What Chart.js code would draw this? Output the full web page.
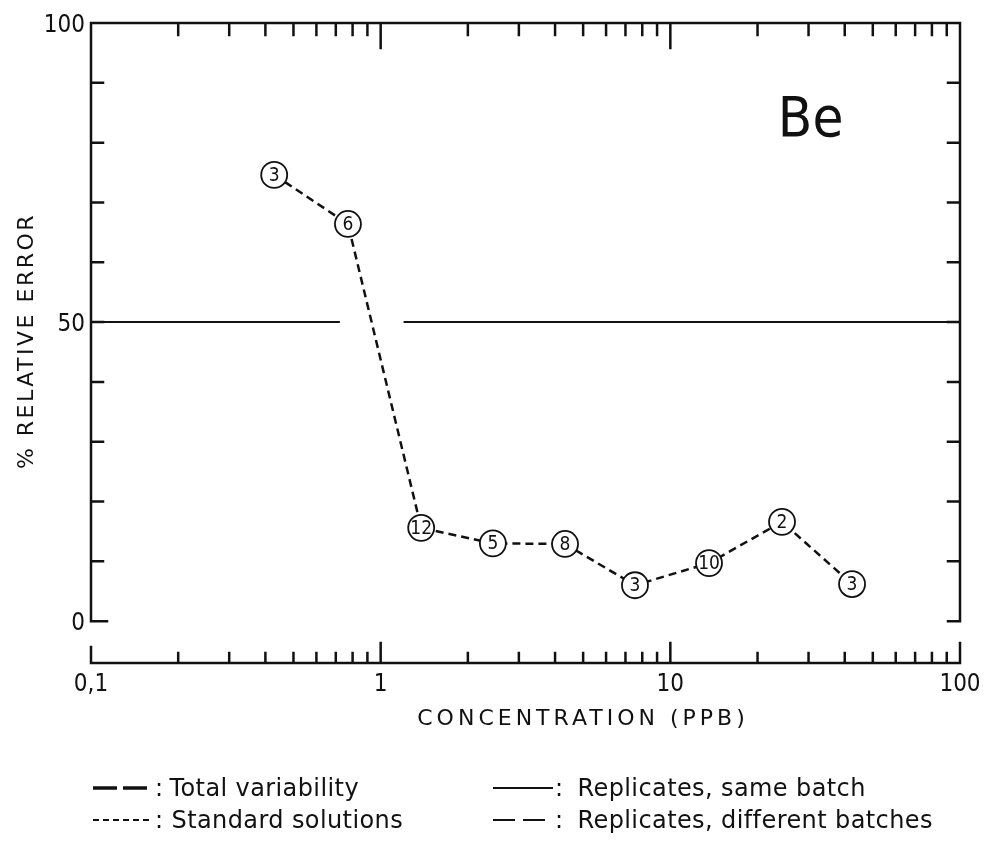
<!DOCTYPE html>
<html>
<head>
<meta charset="utf-8">
<script src="https://cdn.jsdelivr.net/npm/chart.js@4.4.1/dist/chart.umd.min.js"></script>
<style>
  body { margin: 0; background: #fff; }
  #wrap { position: relative; width: 985px; height: 841px; }
  #chart { position: absolute; left: 0; top: 0; }
  .leg { position: absolute; display: flex; align-items: center; height: 32px;
         font-family: "DejaVu Sans", sans-serif;
         font-size: 24px; color: #111; white-space: nowrap; letter-spacing: 0.4px; }
</style>
</head>
<body>
<div id="wrap">
  <canvas id="chart" width="985" height="841"></canvas>
</div>
<script>
// concentration (ppb), % relative error, number of runs (circled)
const conc = [0.429, 0.771, 1.38, 2.44, 4.33, 7.55, 13.6, 24.3, 42.4];
const relErr = [74.6, 66.4, 15.6, 13.0, 12.9, 6.0, 9.7, 16.6, 6.2];
const nRuns = [3, 6, 12, 5, 8, 3, 10, 2, 3];

// replicates, same batch (broken where the curve crosses it)
const sameX = [0.1, 0.723, 0.95, 1.2, 100];
const sameY = [50, 50, null, 50, 50];

const yTickValues = [0, 50, 100];
const yTickLabels = ['0', '50', '100'];
const xTickValues = [0.1, 1, 10, 100];
const xTickLabels = ['0,1', '1', '10', '100'];

const legendLabels = ['Total variability', 'Standard solutions', 'Replicates, same batch', 'Replicates, different batches'];

const ink = '#111';
const fontFam = '"DejaVu Sans Condensed", "Liberation Sans Narrow", sans-serif';
const titleFam = '"DejaVu Sans", sans-serif';

const framePlugin = {
    id: 'frame',
    beforeDatasetsDraw(chart) {
        const ctx = chart.ctx, sx = chart.scales.x, sy = chart.scales.y;
        const xL = sx.getPixelForValue(0.1), xR = sx.getPixelForValue(100);
        const yT = sy.getPixelForValue(100), y0 = sy.getPixelForValue(0);
        const yB = chart.chartArea.bottom;
        ctx.save();
        ctx.strokeStyle = ink;
        ctx.lineWidth = 2.5;
        ctx.lineCap = 'square';
        ctx.beginPath();
        ctx.moveTo(xL, y0); ctx.lineTo(xL, yT); ctx.lineTo(xR, yT); ctx.lineTo(xR, y0);
        ctx.moveTo(xL, yB); ctx.lineTo(xR, yB);
        // y ticks, every 10
        for (let v = 0; v < 100; v += 10) {
            const p = sy.getPixelForValue(v);
            const len = v === 0 ? 16 : 12;
            ctx.moveTo(xL, p); ctx.lineTo(xL + len, p);
            ctx.moveTo(xR, p); ctx.lineTo(xR - 12, p);
        }
        // log ticks top and bottom
        [0.1, 1, 10].forEach(d => {
            for (let k = 1; k <= 9; k++) {
                const p = sx.getPixelForValue(d * k);
                if (!(d === 0.1 && k === 1)) {
                    ctx.moveTo(p, yT); ctx.lineTo(p, yT + (k === 1 ? 25 : 12));
                }
                ctx.moveTo(p, yB); ctx.lineTo(p, yB - (k === 1 ? (d === 0.1 ? 16 : 20) : 10));
            }
        });
        const p100 = sx.getPixelForValue(100);
        ctx.moveTo(p100, yB); ctx.lineTo(p100, yB - 20);
        ctx.stroke();

        // tick labels
        ctx.fillStyle = ink;
        ctx.font = '24px ' + fontFam;
        ctx.textAlign = 'right';
        ctx.textBaseline = 'middle';
        yTickValues.forEach((v, i) => {
            ctx.fillText(yTickLabels[i], xL - 6, sy.getPixelForValue(v) + 3);
        });
        ctx.textAlign = 'center';
        xTickValues.forEach((v, i) => {
            ctx.fillText(xTickLabels[i], sx.getPixelForValue(v), yB + 22);
        });

        // axis titles
        ctx.font = '22px ' + titleFam;
        ctx.letterSpacing = '4px';
        ctx.fillText('CONCENTRATION (PPB)', 583, yB + 56);
        ctx.letterSpacing = '2.5px';
        ctx.save();
        ctx.translate(27, 341);
        ctx.rotate(-Math.PI / 2);
        ctx.fillText('% RELATIVE ERROR', 0, 0);
        ctx.restore();
        ctx.letterSpacing = '0px';

        ctx.font = '56px ' + fontFam;
        ctx.fillText('Be', sx.getPixelForValue(30.5), sy.getPixelForValue(83.5));
        ctx.restore();
    },
    afterDatasetsDraw(chart) {
        const ctx = chart.ctx;
        const meta = chart.getDatasetMeta(1);
        ctx.save();
        ctx.fillStyle = ink;
        ctx.font = '19px ' + fontFam;
        ctx.textAlign = 'center';
        ctx.textBaseline = 'middle';
        meta.data.forEach((pt, i) => {
            ctx.fillText(String(nRuns[i]), pt.x, pt.y + 1);
        });
        ctx.restore();
    }
};

const data = {
    datasets: [{
        label: 'Replicates, same batch',
        data: sameX.map((x, i) => ({ x: x, y: sameY[i] })),
        borderColor: ink,
        borderWidth: 2,
        pointRadius: 0,
        spanGaps: false
    }, {
        label: 'Standard solutions',
        data: conc.map((x, i) => ({ x: x, y: relErr[i] })),
        borderColor: ink,
        borderWidth: 2.5,
        borderDash: [8, 5],
        pointRadius: 13,
        pointBackgroundColor: '#fff',
        pointBorderColor: ink,
        pointBorderWidth: 1.8
    }]
};

const config = {
    type: 'line',
    data,
    options: {
        responsive: false,
        animation: false,
        layout: { padding: { left: 91, right: 25, top: 23, bottom: 178 } },
        plugins: { legend: { display: false }, tooltip: { enabled: false } },
        scales: {
            x: { type: 'logarithmic', min: 0.1, max: 100, display: false },
            y: { type: 'linear', min: -7, max: 100, display: false }
        }
    },
    plugins: [framePlugin]
};

var chart = new Chart(document.getElementById('chart'), config);

// legend below the plot
const legendDash = [[24, 6], [6, 4], [], [22, 8]];
const legendWidth = [3.5, 2, 2, 1.8];
const legendPos = [[93, 772], [93, 804], [493, 772], [493, 804]];
const legendGap = [6, 8, 14, 14];
const wrap = document.getElementById('wrap');
legendLabels.forEach((txt, i) => {
    const d = document.createElement('div');
    d.className = 'leg';
    d.style.left = legendPos[i][0] + 'px';
    d.style.top = legendPos[i][1] + 'px';
    const dash = legendDash[i].length ? legendDash[i].join(' ') : 'none';
    d.innerHTML = '<svg width="60" height="10" style="margin-right:2px"><line x1="0" y1="5" x2="60" y2="5" stroke="' + ink +
        '" stroke-width="' + legendWidth[i] + '" stroke-dasharray="' + dash + '"/></svg><span>:</span>';
    const s = document.createElement('span');
    s.style.marginLeft = legendGap[i] + 'px';
    s.textContent = txt;
    d.appendChild(s);
    wrap.appendChild(d);
});
</script>
</body>
</html>
